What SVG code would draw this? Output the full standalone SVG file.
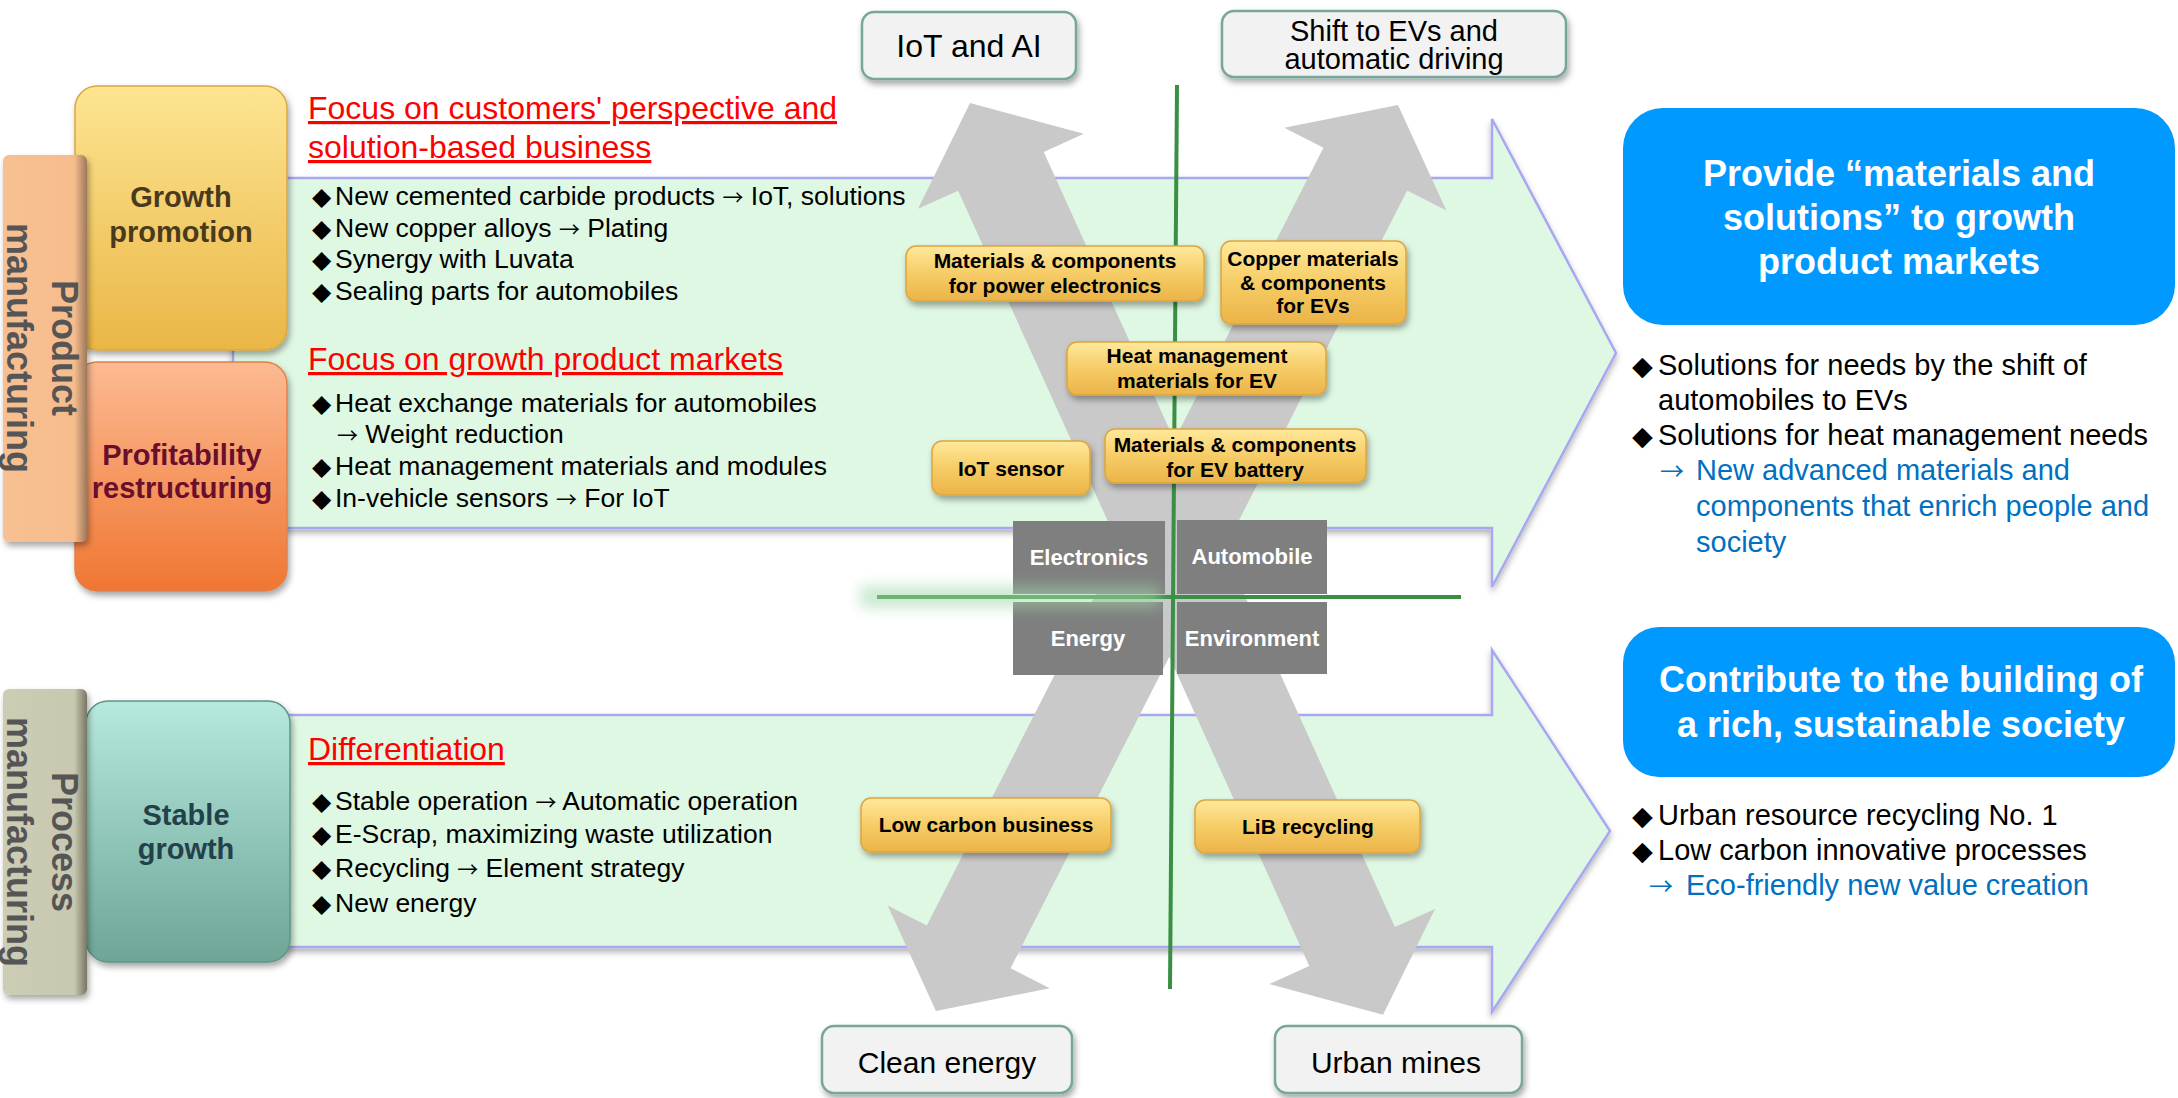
<svg xmlns="http://www.w3.org/2000/svg" width="2178" height="1098" viewBox="0 0 2178 1098">
<defs>
<style>
text { font-family: 'Liberation Sans', Arial, 'DejaVu Sans', sans-serif; }
.bul { font-size: 26.5px; fill: #000; }
.dia { font-family: 'DejaVu Sans', sans-serif; font-size: 25px; }
.ar { font-family: 'Noto Sans CJK JP', 'DejaVu Sans', sans-serif; font-size: 21px; }
.ar2 { font-family: 'Noto Sans CJK JP', 'DejaVu Sans', sans-serif; font-size: 24px; }
.head { font-size: 32px; fill: #FF0000; text-decoration: underline; }
.rb { font-size: 29px; fill: #000; }
.blue { fill: #0070C0; }
.gbox { fill: url(#gGold); stroke: #DDA53F; stroke-width: 1.5; filter: url(#sh); }
.gt { font-size: 21px; font-weight: bold; fill: #000; text-anchor: middle; }
.lbl rect { fill: #F2F2F2; stroke: #76A69C; stroke-width: 2.5; filter: url(#sh); }
.lbl text { font-size: 30px; text-anchor: middle; fill: #000; }
.quad rect { fill: #7F7F7F; }
.quad text { font-size: 22px; font-weight: bold; fill: #fff; text-anchor: middle; }
.bb rect { fill: #0099FF; }
.bb text { font-size: 36px; font-weight: bold; fill: #fff; text-anchor: middle; }
.side text { font-size: 29px; font-weight: bold; text-anchor: middle; }
.tab text { font-size: 36px; font-weight: bold; fill: #555; text-anchor: middle; }
.garrow { fill: #DFF8E3; stroke: #A8A8F2; stroke-width: 2.5; filter: url(#sh2); }
.xarr { fill: #C9C9C9; }
.gline { stroke: #3A8F45; stroke-width: 4; fill: none; }
</style>
<filter id="sh" x="-20%" y="-20%" width="140%" height="160%">
<feDropShadow dx="2" dy="4" stdDeviation="3" flood-color="#000" flood-opacity="0.35"/>
</filter>
<filter id="sh2" x="-5%" y="-5%" width="110%" height="115%">
<feDropShadow dx="0" dy="4" stdDeviation="3" flood-color="#000" flood-opacity="0.3"/>
</filter>
<filter id="blur" x="-20%" y="-100%" width="140%" height="300%">
<feGaussianBlur stdDeviation="7"/>
</filter>
<linearGradient id="gGold" x1="0" y1="0" x2="0" y2="1">
<stop offset="0" stop-color="#FFE99C"/>
<stop offset="0.5" stop-color="#F6CC66"/>
<stop offset="1" stop-color="#EBB448"/>
</linearGradient>
<linearGradient id="gGrowth" x1="0" y1="0" x2="0" y2="1">
<stop offset="0" stop-color="#FDE592"/>
<stop offset="1" stop-color="#EAB646"/>
</linearGradient>
<linearGradient id="gProfit" x1="0" y1="0" x2="0" y2="1">
<stop offset="0" stop-color="#FCBA92"/>
<stop offset="1" stop-color="#F07632"/>
</linearGradient>
<linearGradient id="gStable" x1="0" y1="0" x2="0" y2="1">
<stop offset="0" stop-color="#B7E9DE"/>
<stop offset="1" stop-color="#6DA597"/>
</linearGradient>
<linearGradient id="gTab1" x1="0" y1="0" x2="1" y2="0">
<stop offset="0" stop-color="#F8C092"/>
<stop offset="0.85" stop-color="#F6BC8C"/>
<stop offset="1" stop-color="#9C785C"/>
</linearGradient>
<linearGradient id="gTab2" x1="0" y1="0" x2="1" y2="0">
<stop offset="0" stop-color="#CDCDB6"/>
<stop offset="0.85" stop-color="#C8C8B0"/>
<stop offset="1" stop-color="#767664"/>
</linearGradient>
</defs>

<rect width="2178" height="1098" fill="#FFFFFF"/>

<!-- background flow arrows -->
<g id="flow-arrows">
<path class="garrow" d="M233,178 H1492 V119 L1616,353 L1492,587 V528 H233 Z"/>
<path class="garrow" d="M233,715 H1492 V650 L1610,831 L1492,1012 V947 H233 Z"/>
</g>

<!-- connectors: crossing arrows and axis lines -->
<g id="connectors">
<polygon class="xarr" transform="translate(970,103) rotate(65.63)" points="0,0 75,-91 75,-47 926,-47 926,-91 1001,0 926,91 926,47 75,47 75,91"/>
<polygon class="xarr" transform="translate(1398,105) rotate(117.02)" points="0,0 72,-91 72,-47 945,-47 945,-91 1017,0 945,91 945,47 72,47 72,91"/>
<line class="gline" x1="1177" y1="85" x2="1170" y2="989"/>
<line class="gline" x1="877" y1="597" x2="1461" y2="597"/>
</g>

<!-- quadrant nodes -->
<g id="quad-electronics" class="quad"><rect x="1013" y="521" width="152" height="73"/><text x="1089" y="565">Electronics</text></g>
<g id="quad-automobile" class="quad"><rect x="1177" y="520" width="150" height="74"/><text x="1252" y="564">Automobile</text></g>
<g id="quad-energy" class="quad"><rect x="1013" y="602" width="150" height="73"/><text x="1088" y="646">Energy</text></g>
<g id="quad-environment" class="quad"><rect x="1177" y="602" width="150" height="72"/><text x="1252" y="646">Environment</text></g>
<rect x="860" y="586" width="300" height="22" fill="#9FD8A8" opacity="0.55" filter="url(#blur)"/>

<!-- gold nodes -->
<g id="n-power-electronics"><rect class="gbox" x="906" y="246" width="298" height="55" rx="10"/><text class="gt" x="1055" y="268">Materials &amp; components</text><text class="gt" x="1055" y="293">for power electronics</text></g>
<g id="n-copper-ev"><rect class="gbox" x="1221" y="241" width="185" height="83" rx="10"/><text class="gt" x="1313" y="266">Copper materials</text><text class="gt" x="1313" y="290">&amp; components</text><text class="gt" x="1313" y="313">for EVs</text></g>
<g id="n-heat-ev"><rect class="gbox" x="1067" y="342" width="259" height="53" rx="10"/><text class="gt" x="1197" y="363">Heat management</text><text class="gt" x="1197" y="388">materials for EV</text></g>
<g id="n-iot-sensor"><rect class="gbox" x="932" y="441" width="158" height="54" rx="10"/><text class="gt" x="1011" y="476">IoT sensor</text></g>
<g id="n-ev-battery"><rect class="gbox" x="1105" y="429" width="261" height="54" rx="10"/><text class="gt" x="1235" y="452">Materials &amp; components</text><text class="gt" x="1235" y="477">for EV battery</text></g>
<g id="n-low-carbon"><rect class="gbox" x="861" y="798" width="250" height="54" rx="10"/><text class="gt" x="986" y="832">Low carbon business</text></g>
<g id="n-lib-recycling"><rect class="gbox" x="1195" y="800" width="225" height="53" rx="10"/><text class="gt" x="1308" y="834">LiB recycling</text></g>

<!-- end-point label nodes -->
<g id="n-iot-ai" class="lbl"><rect x="862" y="12" width="214" height="67" rx="12"/><text x="969" y="57" style="font-size:32px">IoT and AI</text></g>
<g id="n-shift-ev" class="lbl"><rect x="1222" y="11" width="344" height="66" rx="12"/><text x="1394" y="41" style="font-size:29px">Shift to EVs and</text><text x="1394" y="69" style="font-size:29px">automatic driving</text></g>
<g id="n-clean-energy" class="lbl"><rect x="822" y="1026" width="250" height="67" rx="12"/><text x="947" y="1073">Clean energy</text></g>
<g id="n-urban-mines" class="lbl"><rect x="1275" y="1026" width="247" height="67" rx="12"/><text x="1396" y="1073">Urban mines</text></g>

<!-- left side nodes -->
<g id="n-growth" class="side"><rect x="75" y="86" width="212" height="264" rx="22" fill="url(#gGrowth)" stroke="#D8A845" stroke-width="1.5" filter="url(#sh)"/><text x="181" y="207" fill="#4A3A1C">Growth</text><text x="181" y="242" fill="#4A3A1C">promotion</text></g>
<g id="n-profit" class="side"><rect x="75" y="362" width="212" height="229" rx="22" fill="url(#gProfit)" stroke="#E0804C" stroke-width="1.5" filter="url(#sh)"/><text x="182" y="465" fill="#6A0E2E">Profitability</text><text x="182" y="498" fill="#6A0E2E">restructuring</text></g>
<g id="n-stable" class="side"><rect x="86" y="701" width="204" height="261" rx="22" fill="url(#gStable)" stroke="#5E9488" stroke-width="1.5" filter="url(#sh)"/><text x="186" y="825" fill="#23414A">Stable</text><text x="186" y="859" fill="#23414A">growth</text></g>

<g id="tab-product" class="tab"><rect x="3" y="155" width="84" height="387" rx="6" fill="url(#gTab1)" filter="url(#sh)"/><text transform="translate(52,348) rotate(90)">Product</text><text transform="translate(7,348) rotate(90)">manufacturing</text></g>
<g id="tab-process" class="tab"><rect x="3" y="689" width="84" height="306" rx="6" fill="url(#gTab2)" filter="url(#sh)"/><text transform="translate(52,842) rotate(90)">Process</text><text transform="translate(7,842) rotate(90)">manufacturing</text></g>

<!-- left texts -->
<g id="txt-growth">
<text class="head" x="308" y="119">Focus on customers' perspective and</text>
<text class="head" x="308" y="158">solution-based business</text>
<text class="bul" y="205"><tspan class="dia" x="312">◆</tspan><tspan x="335">New cemented carbide products </tspan><tspan class="ar">→</tspan><tspan> IoT, solutions</tspan></text>
<text class="bul" y="237"><tspan class="dia" x="312">◆</tspan><tspan x="335">New copper alloys </tspan><tspan class="ar">→</tspan><tspan> Plating</tspan></text>
<text class="bul" y="268"><tspan class="dia" x="312">◆</tspan><tspan x="335">Synergy with Luvata</tspan></text>
<text class="bul" y="300"><tspan class="dia" x="312">◆</tspan><tspan x="335">Sealing parts for automobiles</tspan></text>
</g>
<g id="txt-profit">
<text class="head" x="308" y="370">Focus on growth product markets</text>
<text class="bul" y="412"><tspan class="dia" x="312">◆</tspan><tspan x="335">Heat exchange materials for automobiles</tspan></text>
<text class="bul" y="443"><tspan class="ar" x="337">→</tspan><tspan> Weight reduction</tspan></text>
<text class="bul" y="475"><tspan class="dia" x="312">◆</tspan><tspan x="335">Heat management materials and modules</tspan></text>
<text class="bul" y="507"><tspan class="dia" x="312">◆</tspan><tspan x="335">In-vehicle sensors </tspan><tspan class="ar">→</tspan><tspan> For IoT</tspan></text>
</g>
<g id="txt-stable">
<text class="head" x="308" y="760">Differentiation</text>
<text class="bul" y="810"><tspan class="dia" x="312">◆</tspan><tspan x="335">Stable operation </tspan><tspan class="ar">→</tspan><tspan> Automatic operation</tspan></text>
<text class="bul" y="843"><tspan class="dia" x="312">◆</tspan><tspan x="335">E-Scrap, maximizing waste utilization</tspan></text>
<text class="bul" y="877"><tspan class="dia" x="312">◆</tspan><tspan x="335">Recycling </tspan><tspan class="ar">→</tspan><tspan> Element strategy</tspan></text>
<text class="bul" y="912"><tspan class="dia" x="312">◆</tspan><tspan x="335">New energy</tspan></text>
</g>

<!-- right outcome nodes -->
<g id="n-provide" class="bb"><rect x="1623" y="108" width="552" height="217" rx="40"/><text x="1899" y="186">Provide “materials and</text><text x="1899" y="230">solutions” to growth</text><text x="1899" y="274">product markets</text></g>
<g id="txt-provide">
<text class="rb" y="375"><tspan class="dia" x="1632" style="font-size:27px">◆</tspan><tspan x="1658">Solutions for needs by the shift of</tspan></text>
<text class="rb" x="1658" y="410">automobiles to EVs</text>
<text class="rb" y="445"><tspan class="dia" x="1632" style="font-size:27px">◆</tspan><tspan x="1658">Solutions for heat management needs</tspan></text>
<text class="rb blue" y="480"><tspan class="ar2" x="1660">→</tspan><tspan x="1696">New advanced materials and</tspan></text>
<text class="rb blue" x="1696" y="516">components that enrich people and</text>
<text class="rb blue" x="1696" y="552">society</text>
</g>
<g id="n-contribute" class="bb"><rect x="1623" y="627" width="552" height="150" rx="36"/><text x="1901" y="692">Contribute to the building of</text><text x="1901" y="737">a rich, sustainable society</text></g>
<g id="txt-contribute">
<text class="rb" y="825"><tspan class="dia" x="1632" style="font-size:27px">◆</tspan><tspan x="1658">Urban resource recycling No. 1</tspan></text>
<text class="rb" y="860"><tspan class="dia" x="1632" style="font-size:27px">◆</tspan><tspan x="1658">Low carbon innovative processes</tspan></text>
<text class="rb blue" y="895"><tspan class="ar2" x="1649">→</tspan><tspan x="1686">Eco-friendly new value creation</tspan></text>
</g>
</svg>
